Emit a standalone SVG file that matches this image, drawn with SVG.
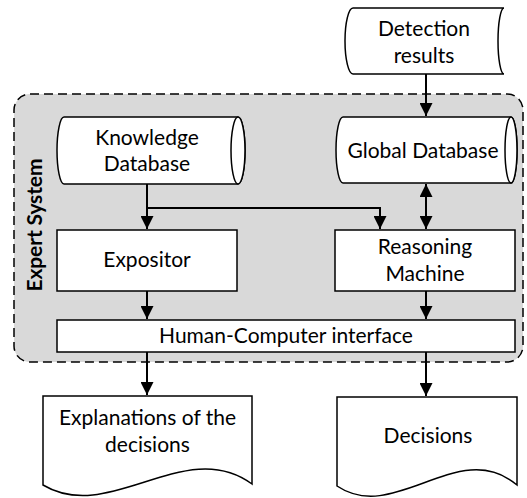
<svg xmlns="http://www.w3.org/2000/svg" width="527" height="498" viewBox="0 0 527 498">
<style>
.shape{fill:#fff;stroke:#000;stroke-width:1.5}
.lbl{font-family:Lato,"Open Sans","Liberation Sans",sans-serif;font-size:21px;fill:#000;text-anchor:middle}
.title{font-family:Lato,"Open Sans","Liberation Sans",sans-serif;font-size:21px;font-weight:bold;fill:#000;text-anchor:middle}
.conn{fill:none;stroke:#000;stroke-width:2}
</style>
<defs>
<marker id="ah" markerUnits="userSpaceOnUse" markerWidth="13" markerHeight="13" refX="12" refY="6" orient="auto-start-reverse" viewBox="0 0 12 12">
<path d="M0,0 L12,6 L0,12 Z" fill="#000"/>
</marker>
</defs>
<g id="expert-system">
<rect x="14" y="94" width="509" height="268" rx="16" fill="#d9d9d9" stroke="#000" stroke-width="1.5" stroke-dasharray="9,5"/>
<text class="title" transform="translate(42,225) rotate(-90)" textLength="133">Expert System</text>
</g>
<g id="detection-results">
<path class="shape" d="M353,8 H504 A6,33 0 0 0 504,74 H353 A8,33 0 0 1 353,8 Z"/>
<text class="lbl" x="424" y="36">Detection</text>
<text class="lbl" x="424" y="63">results</text>
</g>
<g id="knowledge-database">
<path class="shape" d="M64,117 H238 A7,33.5 0 0 1 238,184 H64 A7,33.5 0 0 1 64,117 Z"/>
<ellipse class="shape" cx="238" cy="150.5" rx="7" ry="33.5"/>
<text class="lbl" x="147" y="145">Knowledge</text>
<text class="lbl" x="147" y="171">Database</text>
</g>
<g id="global-database">
<path class="shape" d="M343,117 H511 A6,33 0 0 1 511,183 H343 A7,33 0 0 1 343,117 Z"/>
<ellipse class="shape" cx="511" cy="150" rx="6" ry="33"/>
<text class="lbl" x="423" y="158">Global Database</text>
</g>
<g id="expositor">
<rect class="shape" x="57" y="230" width="180" height="61"/>
<text class="lbl" x="147" y="267">Expositor</text>
</g>
<g id="reasoning-machine">
<rect class="shape" x="335" y="230" width="180" height="61"/>
<text class="lbl" x="425" y="254">Reasoning</text>
<text class="lbl" x="425" y="281">Machine</text>
</g>
<g id="hci">
<rect class="shape" x="57" y="320" width="458" height="32"/>
<text class="lbl" x="286" y="343">Human-Computer interface</text>
</g>
<g id="explanations">
<path class="shape" d="M43,396 H252 V484 C185,435 110,525 43,485 Z"/>
<text class="lbl" x="147.5" y="425">Explanations of the</text>
<text class="lbl" x="147.5" y="452">decisions</text>
</g>
<g id="decisions">
<path class="shape" d="M337,397 H517 V485 C459,436 395,525 337,486 Z"/>
<text class="lbl" x="428" y="443">Decisions</text>
</g>
<g id="connectors">
<path class="conn" d="M426,74 V116" marker-end="url(#ah)"/>
<path class="conn" d="M147,184 V229" marker-end="url(#ah)"/>
<path class="conn" d="M147,208 H380 V229" marker-end="url(#ah)"/>
<path class="conn" d="M426,184 V229" marker-start="url(#ah)" marker-end="url(#ah)"/>
<path class="conn" d="M147,291 V319" marker-end="url(#ah)"/>
<path class="conn" d="M426,291 V319" marker-end="url(#ah)"/>
<path class="conn" d="M147,352 V395" marker-end="url(#ah)"/>
<path class="conn" d="M426,352 V396" marker-end="url(#ah)"/>
</g>
</svg>
